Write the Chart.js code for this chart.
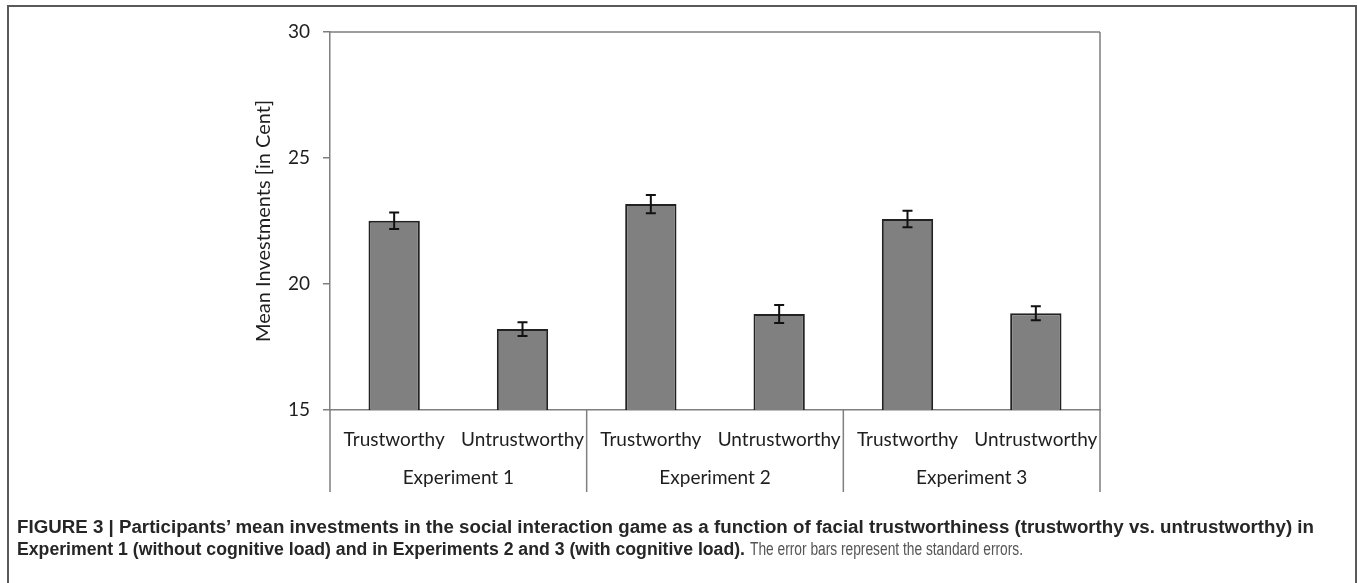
<!DOCTYPE html>
<html>
<head>
<meta charset="utf-8">
<script src="https://cdn.jsdelivr.net/npm/chart.js@4.4.1/dist/chart.umd.min.js"></script>
<style>
  html, body { margin: 0; padding: 0; background: #fff; }
  body { width: 1357px; height: 583px; position: relative; overflow: hidden; }
  #frame {
    position: absolute; left: 7px; top: 5px; width: 1346px; height: 600px;
    border-left: 2px solid #5a5a5a; border-top: 2px solid #5a5a5a; border-right: 2px solid #5a5a5a;
  }
  #chart { position: absolute; left: 0; top: 0; }
  .cap {
    position: absolute; white-space: nowrap; transform-origin: 0 50%;
    font-family: "Liberation Sans Narrow", "Liberation Sans", Arial, sans-serif;
    font-size: 18px; line-height: 22px; color: #262626; font-weight: bold;
  }
  .cap.plain { color: #555; font-weight: normal; }
</style>
</head>
<body>
<div id="frame"></div>
<canvas id="chart" width="1357" height="583"></canvas>
<div class="cap" id="cap1" style="left:17px; top:516px">FIGURE 3 | Participants’ mean investments in the social interaction game as a function of facial trustworthiness (trustworthy vs. untrustworthy) in</div>
<div class="cap" id="cap2" style="left:17px; top:538px">Experiment 1 (without cognitive load) and in Experiments 2 and 3 (with cognitive load).</div>
<div class="cap plain" id="cap3" style="left:750px; top:538px">The error bars represent the standard errors.</div>
<script>
// Conditions within each experiment
const categories = ['Trustworthy', 'Untrustworthy', 'Trustworthy', 'Untrustworthy', 'Trustworthy', 'Untrustworthy'];
const experiments = ['Experiment 1', 'Experiment 2', 'Experiment 3'];
// Mean investment (cents) and its standard error per condition
const meanInvestment = [22.51, 18.21, 23.17, 18.81, 22.58, 18.84];
const standardError = [0.33, 0.27, 0.36, 0.36, 0.33, 0.28];
const yTicks = [15, 20, 25, 30];
const yTitle = 'Mean Investments [in Cent]';

const AXIS = '#7f7f7f';
const TEXT = '#1e1e1e';
const FONT = 'Lato, "Open Sans", sans-serif';
const GROUP_LINE_BOTTOM = 492;

// Error bars, plot box, group separators and group labels
const extras = {
  id: 'extras',
  afterDatasetsDraw(chart) {
    const { ctx, chartArea: a, scales: { x, y } } = chart;
    ctx.save();
    // error bars
    ctx.strokeStyle = '#111';
    ctx.lineWidth = 2;
    meanInvestment.forEach((m, i) => {
      const px = x.getPixelForValue(i);
      const top = y.getPixelForValue(m + standardError[i]);
      const bot = y.getPixelForValue(m - standardError[i]);
      ctx.beginPath();
      ctx.moveTo(px, top); ctx.lineTo(px, bot);
      ctx.moveTo(px - 5, top); ctx.lineTo(px + 5, top);
      ctx.moveTo(px - 5, bot); ctx.lineTo(px + 5, bot);
      ctx.stroke();
    });
    // plot box top and right, axis extensions and group separators
    ctx.strokeStyle = AXIS;
    ctx.lineWidth = 1.5;
    ctx.beginPath();
    ctx.moveTo(a.left, a.top); ctx.lineTo(a.right, a.top);
    ctx.moveTo(a.right, a.top); ctx.lineTo(a.right, GROUP_LINE_BOTTOM);
    ctx.moveTo(a.left, a.bottom); ctx.lineTo(a.left, GROUP_LINE_BOTTOM);
    for (let g = 1; g < experiments.length; g++) {
      const bx = (x.getPixelForValue(2 * g - 1) + x.getPixelForValue(2 * g)) / 2;
      ctx.moveTo(bx, a.bottom); ctx.lineTo(bx, GROUP_LINE_BOTTOM);
    }
    ctx.stroke();
    // group labels
    ctx.fillStyle = TEXT;
    ctx.font = '19px ' + FONT;
    ctx.textAlign = 'center';
    ctx.textBaseline = 'middle';
    experiments.forEach((name, g) => {
      const cx = (x.getPixelForValue(2 * g) + x.getPixelForValue(2 * g + 1)) / 2;
      ctx.fillText(name, cx, 478);
    });
    ctx.restore();
  }
};

new Chart(document.getElementById('chart'), {
  type: 'bar',
  data: {
    labels: categories,
    datasets: [{
      data: meanInvestment,
      backgroundColor: '#808080',
      borderColor: '#222',
      borderWidth: 2,
      barPercentage: 0.4,
      categoryPercentage: 1.0
    }]
  },
  options: {
    responsive: false,
    animation: false,
    layout: { padding: { left: 250, right: 257, top: 32, bottom: 0 } },
    plugins: { legend: { display: false }, tooltip: { enabled: false } },
    scales: {
      x: {
        grid: { display: false },
        border: { display: true, color: AXIS, width: 1.5 },
        ticks: { color: TEXT, font: { family: FONT, size: 19 }, padding: 10, maxRotation: 0, autoSkip: false },
        afterFit(scale) { scale.height = 173; }
      },
      y: {
        min: 15, max: 30,
        afterBuildTicks(scale) { scale.ticks = yTicks.map(v => ({ value: v })); },
        grid: { drawOnChartArea: false, tickLength: 7, color: AXIS, lineWidth: 1.5 },
        border: { display: true, color: AXIS, width: 1.5 },
        ticks: { color: TEXT, font: { family: FONT, size: 19 }, padding: 13 },
        title: { display: true, text: yTitle, color: TEXT, font: { family: FONT, size: 20 }, padding: { top: 2, bottom: 0 } },
        afterFit(scale) { scale.width = 80; }
      }
    }
  },
  plugins: [extras]
});

// Condensed caption: squeeze each run to its measured span
function fitWidth(el, w) {
  const k = w / el.getBoundingClientRect().width;
  el.style.transform = 'scaleX(' + k + ')';
}
fitWidth(document.getElementById('cap1'), 1297);
fitWidth(document.getElementById('cap2'), 728);
fitWidth(document.getElementById('cap3'), 273);
</script>
</body>
</html>
